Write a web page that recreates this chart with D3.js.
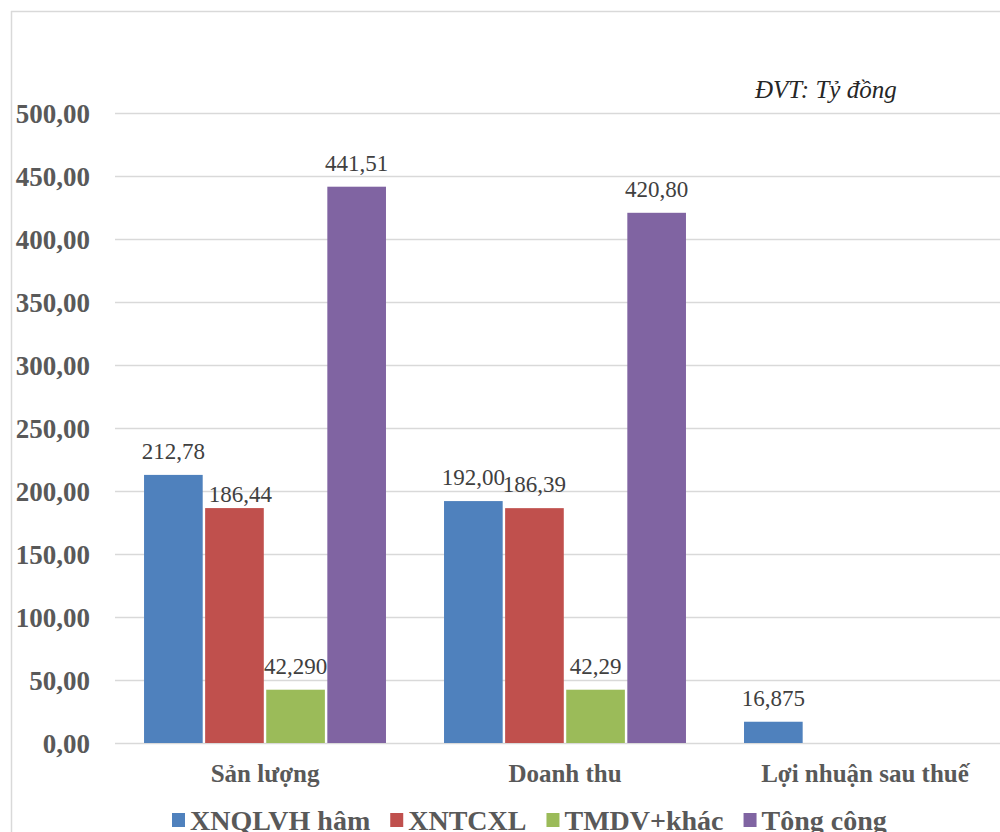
<!DOCTYPE html>
<html>
<head>
<meta charset="utf-8">
<script src="https://cdn.jsdelivr.net/npm/d3@7"></script>
<style>
  html, body { margin: 0; padding: 0; background: #fff; }
  svg { display: block; }
  svg text { font-family: "Liberation Serif", "DejaVu Serif", "Noto Serif", "Tinos", "FreeSerif", "Nimbus Roman", "Times New Roman", Times, serif; }
</style>
</head>
<body>
<svg id="chart" width="1000" height="832"></svg>
<script>
// Categories along the x axis
const categories = ["Sản lượng", "Doanh thu", "Lợi nhuận sau thuế"];

// Series names (legend order)
const seriesNames = ["XNQLVH hâm", "XNTCXL", "TMDV+khác", "Tông công"];

// Series values, one per category (null = no bar)
const xnqlvhValues = [212.78, 192.00, 16.875];
const xntcxlValues = [186.44, 186.39, null];
const tmdvValues = [42.29, 42.29, null];
const tongCongValues = [441.51, 420.80, null];

// Data labels as printed above each bar
const xnqlvhLabels = ["212,78", "192,00", "16,875"];
const xntcxlLabels = ["186,44", "186,39", null];
const tmdvLabels = ["42,290", "42,29", null];
const tongCongLabels = ["441,51", "420,80", null];

// Y axis ticks
const yTicks = [0, 50, 100, 150, 200, 250, 300, 350, 400, 450, 500];

const unitNote = "ĐVT: Tỷ đồng";

const seriesColors = ["#4f81bd", "#c0504d", "#9bbb59", "#8064a2"];

const seriesValues = [xnqlvhValues, xntcxlValues, tmdvValues, tongCongValues];
const seriesLabels = [xnqlvhLabels, xntcxlLabels, tmdvLabels, tongCongLabels];

const rows = [];
seriesValues.forEach((vals, s) => {
  vals.forEach((v, c) => {
    if (v != null) rows.push({ s, c, value: v, label: seriesLabels[s][c] });
  });
});

const svg = d3.select("#chart");

// Chart frame (only top and left edges fall inside the view)
svg.append("rect").attr("width", 1000).attr("height", 832).attr("fill", "#fff");
svg.append("line").attr("x1", 11).attr("x2", 1000).attr("y1", 11.5).attr("y2", 11.5)
  .attr("stroke", "#d9d9d9").attr("stroke-width", 1.5);
svg.append("line").attr("x1", 11.5).attr("x2", 11.5).attr("y1", 11).attr("y2", 832)
  .attr("stroke", "#d9d9d9").attr("stroke-width", 1.5);

const plotLeft = 115, plotRight = 1015;
const y = d3.scaleLinear().domain([0, 500]).range([743, 113]);
const x0 = d3.scaleBand().domain(d3.range(categories.length))
  .range([plotLeft, plotRight]).paddingInner(0.1935).paddingOuter(0.0968);
const x1 = d3.scaleBand().domain(d3.range(seriesNames.length))
  .range([0, x0.bandwidth()]).paddingInner(0.04);

const viLocale = d3.formatLocale({ decimal: ",", thousands: ".", grouping: [3], currency: ["", " đ"] });
const fmt = viLocale.format(".2f");

// Y axis with gridlines
const yAxis = svg.append("g")
  .attr("transform", `translate(${plotLeft},0)`)
  .call(d3.axisLeft(y).tickValues(yTicks).tickFormat(fmt)
    .tickSizeInner(-(plotRight - plotLeft)).tickSizeOuter(0).tickPadding(25));
yAxis.attr("font-family", null);
yAxis.select(".domain").remove();
yAxis.selectAll(".tick line").attr("stroke", "#d9d9d9").attr("stroke-width", 1.5);
yAxis.selectAll(".tick text")
  .attr("font-size", 27).attr("font-weight", "bold")
  .attr("fill", "#595959").attr("dy", "0.34em");

// Bars
const bars = svg.append("g");
bars.selectAll("rect").data(rows).join("rect")
  .attr("x", d => x0(d.c) + x1(d.s))
  .attr("width", x1.bandwidth())
  .attr("y", d => y(d.value))
  .attr("height", d => y(0) - y(d.value))
  .attr("fill", d => seriesColors[d.s]);

// Data labels; one label is pulled down beside the neighbouring bar
const labelNudge = { "1-0": [6, 10] };
const nudge = d => labelNudge[d.s + "-" + d.c] || [0, 0];
bars.selectAll("text").data(rows).join("text")
  .attr("x", d => x0(d.c) + x1(d.s) + x1.bandwidth() / 2 + nudge(d)[0])
  .attr("y", d => y(d.value) - 16 + nudge(d)[1])
  .attr("text-anchor", "middle")
  .attr("font-size", 23)
  .attr("fill", "#404040")
  .text(d => d.label);

// Category labels
svg.append("g").selectAll("text").data(categories).join("text")
  .attr("x", (d, i) => x0(i) + x0.bandwidth() / 2)
  .attr("y", 782)
  .attr("text-anchor", "middle")
  .attr("font-size", 25).attr("font-weight", "bold")
  .attr("fill", "#595959")
  .text(d => d);

// Unit note
svg.append("text")
  .attr("x", 755).attr("y", 98)
  .attr("font-size", 25).attr("font-style", "italic")
  .attr("fill", "#262626")
  .text(unitNote);

// Legend
const legend = svg.append("g");
let lx = 172;
seriesNames.forEach((name, i) => {
  legend.append("rect").attr("x", lx).attr("y", 813).attr("width", 13).attr("height", 14)
    .attr("fill", seriesColors[i]);
  const t = legend.append("text")
    .attr("x", lx + 18).attr("y", 830)
    .attr("font-size", 28).attr("font-weight", "bold")
    .attr("fill", "#595959")
    .text(name);
  lx += 18 + t.node().getComputedTextLength() + 20;
});
</script>
</body>
</html>
